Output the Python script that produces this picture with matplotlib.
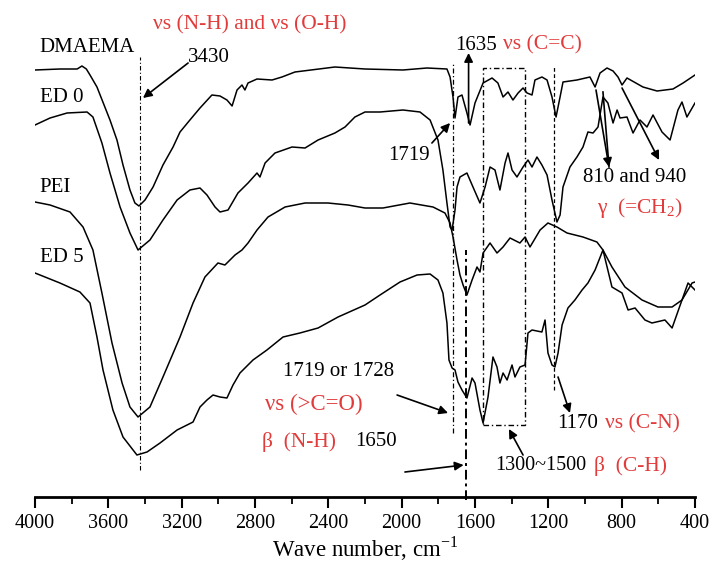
import matplotlib
matplotlib.use("Agg")
import matplotlib.pyplot as plt
from matplotlib.patches import Rectangle

plt.rcParams['font.family'] = ['Liberation Serif', 'DejaVu Serif']
plt.rcParams['mathtext.fontset'] = 'custom'
plt.rcParams['mathtext.rm'] = 'Liberation Serif'

RED = '#e23b3b'

# FTIR spectra (wavenumber cm-1, transmittance in arbitrary offset units)
dmaema_w = [4000, 3864, 3770, 3744, 3720, 3700, 3662, 3591, 3553, 3520, 3482, 3455, 3433, 3400,
            3356, 3302, 3247, 3209, 3155, 3100, 3035, 2991, 2953, 2925, 2898, 2871, 2855, 2838,
            2789, 2707, 2653, 2582, 2364, 2200, 1993, 1862, 1753, 1736, 1720, 1709, 1693, 1671,
            1644, 1627, 1600, 1556, 1507, 1475, 1447, 1420, 1393, 1365, 1338, 1316, 1289, 1273,
            1235, 1207, 1180, 1158, 1136, 1120, 1044, 973, 945, 918, 880, 847, 820, 798, 771,
            684, 607, 520, 465, 400]
dmaema_t = [427, 428, 428, 431, 428, 422, 410, 377, 357, 332, 307, 294, 291, 297,
            310, 332, 350, 365, 377, 389, 402, 401, 397, 391, 407, 412, 407, 414,
            418, 417, 420, 425, 430, 428, 427, 429, 428, 420, 400, 379, 400, 402,
            384, 372, 394, 414, 419, 414, 400, 405, 397, 404, 409, 404, 402, 417,
            420, 417, 400, 380, 400, 415, 417, 420, 410, 424, 429, 426, 420, 412, 419,
            410, 406, 408, 414, 422]

ed0_w = [4000, 3918, 3825, 3716, 3684, 3635, 3591, 3536, 3482, 3438, 3373, 3302, 3225, 3155,
         3100, 3062, 3018, 2991, 2947, 2893, 2838, 2789, 2773, 2745, 2691, 2598, 2527, 2456,
         2364, 2309, 2255, 2200, 2118, 1993, 1900, 1845, 1802, 1775, 1753, 1736, 1725, 1709,
         1698, 1682, 1644, 1611, 1573, 1545, 1518, 1491, 1464, 1436, 1420, 1398, 1371, 1338,
         1311, 1289, 1262, 1235, 1207, 1180, 1153, 1136, 1120, 1082, 1044, 1011, 984, 956,
         929, 902, 875, 847, 825, 809, 771, 738, 700, 662, 629, 580, 536, 493, 471, 444, 400]
ed0_t = [372, 379, 384, 385, 380, 354, 324, 290, 264, 247, 257, 277, 297, 307,
         309, 302, 290, 285, 287, 304, 314, 324, 320, 334, 344, 350, 349, 357,
         364, 370, 380, 385, 385, 387, 385, 377, 357, 327, 294, 270, 267, 287,
         310, 320, 324, 310, 294, 310, 330, 327, 307, 334, 344, 327, 320, 330,
         337, 330, 340, 332, 322, 297, 275, 282, 310, 330, 340, 350, 365, 364,
         370, 400, 394, 374, 387, 379, 380, 364, 377, 370, 382, 365, 357, 387, 395, 380, 394]

pei_w = [4000, 3918, 3809, 3738, 3684, 3635, 3580, 3525, 3482, 3438, 3373, 3302, 3209, 3138,
         3073, 3002, 2964, 2909, 2871, 2838, 2789, 2729, 2636, 2527, 2402, 2293, 2200, 2102,
         1955, 1829, 1764, 1736, 1720, 1698, 1682, 1665, 1644, 1616, 1589, 1573, 1556, 1518,
         1480, 1447, 1409, 1355, 1327, 1300, 1245, 1202, 1153, 1098, 1011, 935, 902, 853, 782,
         689, 602, 525, 471, 416, 400]
pei_t = [295, 292, 285, 270, 247, 204, 154, 114, 90, 80, 90, 120, 160, 194,
         220, 234, 232, 242, 247, 254, 267, 280, 290, 294, 294, 292, 289, 289,
         294, 290, 284, 274, 260, 237, 222, 212, 202, 217, 230, 225, 244, 254,
         244, 250, 259, 254, 260, 250, 267, 274, 270, 264, 260, 255, 247, 230, 210,
         197, 190, 190, 197, 214, 215]

ed5_w = [4000, 3864, 3755, 3700, 3662, 3629, 3575, 3520, 3444, 3389, 3318, 3225, 3138, 3100,
         3062, 3029, 2991, 2953, 2920, 2882, 2811, 2735, 2647, 2555, 2456, 2347, 2200, 2118,
         2009, 1916, 1845, 1802, 1775, 1753, 1742, 1725, 1709, 1693, 1671, 1644, 1616, 1600,
         1573, 1556, 1529, 1502, 1480, 1464, 1447, 1425, 1398, 1382, 1355, 1327, 1311, 1289,
         1235, 1218, 1202, 1180, 1164, 1147, 1125, 1093, 1055, 1016, 984, 945, 902, 853, 798,
         765, 727, 673, 635, 564, 525, 471, 438, 400]
ed5_t = [224, 214, 205, 194, 160, 127, 87, 60, 42, 45, 54, 67, 75, 90,
         97, 102, 100, 99, 112, 124, 137, 147, 160, 164, 169, 180, 192, 202,
         215, 222, 223, 217, 204, 174, 137, 129, 127, 115, 107, 99, 119, 114,
         87, 74, 100, 140, 130, 114, 124, 117, 132, 120, 130, 132, 164, 167,
         165, 177, 144, 132, 130, 144, 172, 189, 197, 207, 214, 227, 247, 210, 204,
         187, 189, 177, 174, 177, 169, 197, 214, 207]

spectra = [(dmaema_w, dmaema_t, 'DMAEMA', 449), (ed0_w, ed0_t, 'ED 0', 399),
           (pei_w, pei_t, 'PEI', 309), (ed5_w, ed5_t, 'ED 5', 239)]

x_ticks = [4000, 3600, 3200, 2800, 2400, 2000, 1600, 1200, 800, 400]

fig = plt.figure(figsize=(7.1, 5.65), dpi=100)
ax = fig.add_axes([35 / 710, 68 / 565, 660 / 710, 497 / 565])

fs = 15
rs = 15.5

for w, t, name, ly in spectra:
    ax.plot(w, t, color='black', lw=1.1)
    ax.text(3975, ly, name, fontsize=fs, va='center', ha='left')

ax.set_xlim(4000, 400)
ax.set_ylim(0, 497)

# guide lines
ax.plot([3430, 3430], [27, 440], color='black', lw=0.8, ls=(0, (4, 2, 1, 2)))
ax.plot([1719, 1719], [64, 434], color='black', lw=0.9, ls=(0, (4, 2, 1, 2)))
ax.plot([1650, 1650], [-3, 247], color='black', lw=1.4, ls=(0, (5, 2, 1.5, 2)), clip_on=False)
ax.plot([1170, 1170], [107, 432], color='black', lw=0.9, ls=(0, (3, 2)))
ax.add_patch(Rectangle((1555, 72), 1325 - 1555, 429 - 72, fill=False, ec='black',
                       lw=1.0, ls=(0, (4, 2, 1, 2))))

arrow = dict(arrowstyle='-|>', lw=1.2, color='black', mutation_scale=13, shrinkA=0, shrinkB=0)


def note(xy, xytext):
    ax.annotate('', xy=xy, xytext=xytext, arrowprops=arrow, annotation_clip=False)


note((3411, 399), (3165, 434))
note((1635, 444), (1635, 374))
note((1736, 374), (1835, 354))
note((1662, 32), (1982, 25))
note((1082, 84), (1147, 120))
note((1747, 84), (2025, 102))
note((1415, 68), (1338, 42))
note((869, 330), (940, 407))
ax.plot([902, 869], [405, 330], color='black', lw=1.2)
note((596, 337), (798, 409))

ax.text(3165, 440, '3430', fontsize=fs, va='center')
ax.text(3356, 472, 'νs (N-H) and νs (O-H)', fontsize=rs, va='center', color=RED)
ax.text(1709, 452, '1635', fontsize=fs, va='center')
ax.text(1447, 452, 'νs (C=C)', fontsize=rs, va='center', color=RED)
ax.text(2075, 342, '1719', fontsize=fs, va='center')
ax.text(1011, 319, '810 and 940', fontsize=fs, va='center')
ax.text(935, 289, 'γ  (=CH$_2$)', fontsize=rs, va='center', color=RED)
ax.text(2647, 125, '1719 or 1728', fontsize=fs, va='center')
ax.text(2745, 93, 'νs (>C=O)', fontsize=rs + 1, va='center', color=RED)
ax.text(1153, 73, '1170', fontsize=fs, va='center')
ax.text(891, 73, 'νs (C-N)', fontsize=rs, va='center', color=RED)
ax.text(2762, 55, 'β  (N-H)', fontsize=rs, va='center', color=RED)
ax.text(2255, 55, '1650', fontsize=fs, va='center')
ax.text(1490, 31, '1300~1500', fontsize=fs - 0.5, va='center')
ax.text(950, 31, 'β  (C-H)', fontsize=rs, va='center', color=RED)

for s in ['left', 'right', 'top']:
    ax.spines[s].set_visible(False)
ax.spines['bottom'].set_linewidth(2)
ax.set_yticks([])
ax.set_xticks(x_ticks)
ax.set_xticks(range(3800, 400, -400), minor=True)
ax.tick_params(axis='x', which='major', length=8, width=1.5, labelsize=14.5, pad=4)
ax.tick_params(axis='x', which='minor', length=5, width=1.3)
ax.set_xlabel('Wave number, cm$^{-1}$', fontsize=16.5, labelpad=1)

fig.savefig('out.png', dpi=100)
